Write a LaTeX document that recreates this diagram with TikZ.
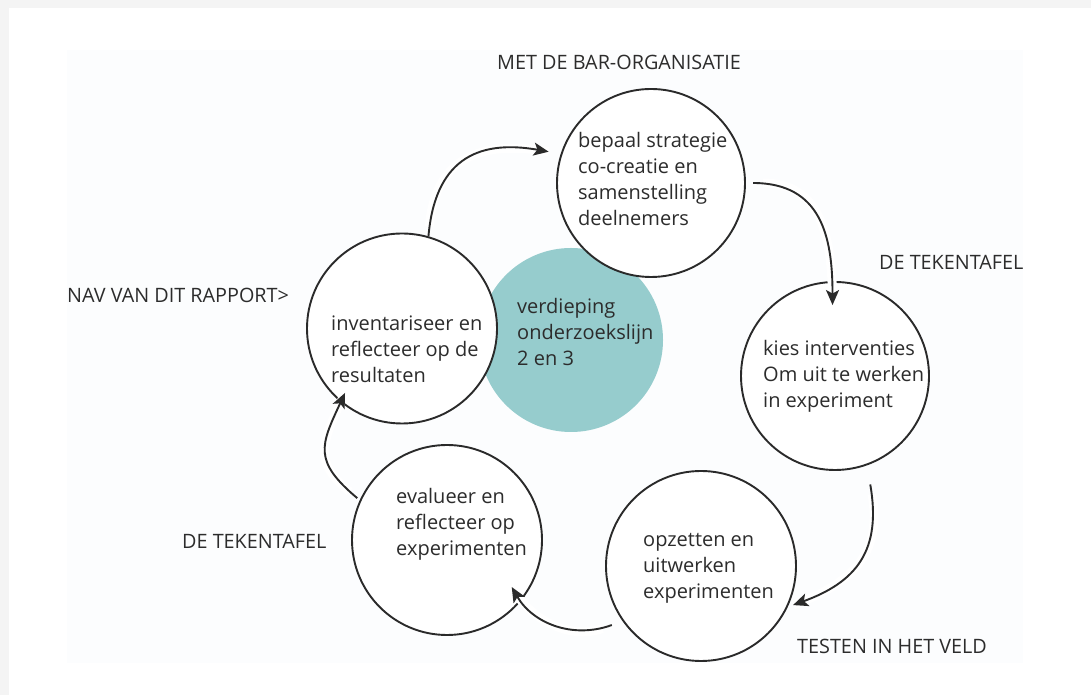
\documentclass[tikz,border=0pt]{standalone}
\usepackage{fontspec}
\setmainfont{Open Sans}
\usetikzlibrary{arrows.meta,calc}
\definecolor{pagegray}{HTML}{F4F4F4}
\definecolor{faintblue}{HTML}{FCFDFE}
\definecolor{tealfill}{HTML}{96CCCD}
\definecolor{ink}{HTML}{2A2A2A}
\definecolor{txtgray}{HTML}{2C2C2C}
\tikzset{
  stepcircle/.style={circle, draw=ink, line width=1.9pt, fill=white, inner sep=0pt, minimum size=#1},
  centercircle/.style={circle, fill=tealfill, inner sep=0pt, minimum size=#1},
  bodytext/.style={anchor=north west, inner sep=0pt, align=left, text=txtgray,
     font=\fontsize{20}{26}\selectfont},
  labeltext/.style={anchor=base west, inner sep=0pt, text=txtgray,
     font=\fontsize{19.8}{23}\selectfont},
  flow/.style={draw=ink, line width=1.9pt, -{Stealth[length=15pt,width=13pt,inset=3.5pt]},
     preaction={draw=white, line width=9pt, arrows=-, shorten <=10pt}},
}
\begin{document}
\begin{tikzpicture}[x=1pt,y=1pt]
\useasboundingbox (0,0) rectangle (1091,695);
\fill[pagegray] (0,0) rectangle (1091,695);
\fill[white] (9,0) rectangle (1091,687);
\fill[faintblue] (67,32) rectangle (1023,645);

% centre circle
\node[centercircle=184pt] (core) at (571,355) {};

% step circles
\node[stepcircle=188pt] (c1) at (651,512) {};
\node[stepcircle=188pt] (c2) at (835,319) {};
\node[stepcircle=190pt] (c3) at (701,129) {};
\node[stepcircle=190pt] (c4) at (447,155) {};
\node[stepcircle=190pt] (c5) at (402,366.5) {};

% texts inside circles
\node[bodytext] (t1) at (578,566.2) {\strut bepaal strategie\\co-creatie en\\samenstelling\\deelnemers};
\node[bodytext] (t2) at (763,358.2) {\strut kies interventies\\Om uit te werken\\in experiment};
\node[bodytext] (t3) at (643,167.2) {\strut opzetten en\\uitwerken\\experimenten};
\node[bodytext] (t4) at (396,210.2) {\strut evalueer en\\reflecteer op\\experimenten};
\node[bodytext] (t5) at (331,383.2) {\strut inventariseer en\\reflecteer op de\\resultaten};
\node[bodytext] (t6) at (517,400.2) {\strut verdieping\\onderzoekslijn\\2 en 3};

% outer labels
\node[labeltext] (l1) at (497,625) {MET DE BAR-ORGANISATIE};
\node[labeltext] (l2) at (879,425) {DE TEKENTAFEL};
\node[labeltext] (l3) at (67,392) {NAV VAN DIT RAPPORT>};
\node[labeltext] (l4) at (182,146) {DE TEKENTAFEL};
\node[labeltext] (l5) at (797,41) {TESTEN IN HET VELD};

% connectors
\draw[flow] (c5.74) to[out=85,in=170,looseness=1.3] ($(c1.center)+(163:107)$);
\draw[flow] ($(c1.center)+(0:102)$) to[out=0,in=90,looseness=1.2] ($(c2.center)+(92:71)$);
\draw[flow] ($(c2.center)+(-72:114)$) to[out=-80,in=20,looseness=1.2] ($(c3.center)+(-23:100)$);
\draw[flow] ($(c3.center)+(213.5:107)$) to[out=200,in=-60] ($(c4.center)+(-36:80)$);
\draw[flow] ($(c4.center)+(155:99)$) to[out=140,in=-115,looseness=1.4] ($(c5.center)+(228.5:86)$);
\end{tikzpicture}
\end{document}
